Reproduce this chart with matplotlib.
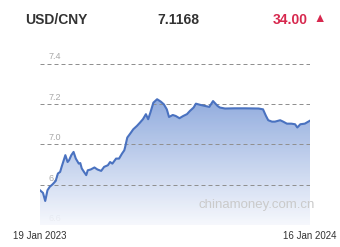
import numpy as np
import matplotlib
matplotlib.use('Agg')
import matplotlib.pyplot as plt
from matplotlib.colors import LinearSegmentedColormap

# data (day offset from 19 Jan 2023, USD/CNY rate)
days = [0, 4, 7, 10, 13, 17, 21, 24, 27, 29, 34, 37, 39, 42, 45, 48, 52, 54,
        56, 59, 62, 64, 68, 73, 77, 82, 86, 91, 94, 97, 102, 106, 110, 113,
        114, 117, 121, 125, 130, 134, 138, 142, 145, 148, 152, 157, 162, 166,
        170, 173, 178, 182, 187, 192, 197, 201, 206, 209, 215, 221, 227, 232,
        238, 241, 248, 261, 275, 293, 299, 303, 306, 311, 315, 322, 326, 331,
        337, 342, 345, 349, 355, 362]
rates = [6.772, 6.759, 6.719, 6.772, 6.789, 6.802, 6.818, 6.855, 6.863, 6.888,
         6.946, 6.912, 6.921, 6.946, 6.962, 6.929, 6.904, 6.907, 6.880, 6.863,
         6.847, 6.871, 6.875, 6.885, 6.875, 6.868, 6.888, 6.896, 6.912, 6.904,
         6.929, 6.929, 6.954, 6.970, 6.984, 7.033, 7.053, 7.074, 7.091, 7.107,
         7.124, 7.149, 7.124, 7.157, 7.206, 7.223, 7.211, 7.198, 7.173, 7.135,
         7.145, 7.140, 7.129, 7.140, 7.149, 7.165, 7.182, 7.201, 7.195, 7.190,
         7.185, 7.214, 7.190, 7.182, 7.177, 7.178, 7.178, 7.177, 7.173, 7.140,
         7.119, 7.112, 7.112, 7.119, 7.112, 7.102, 7.102, 7.099, 7.083, 7.099,
         7.102, 7.1168]
y_ticks = [6.6, 6.8, 7.0, 7.2, 7.4]
y_labels = ['6.6', '6.8', '7.0', '7.2', '7.4']
pair = 'USD/CNY'
last_rate = '7.1168'
change = '34.00'
start_date = '19 Jan 2023'
end_date = '16 Jan 2024'

plt.rcParams['font.family'] = ['Liberation Sans', 'DejaVu Sans']

fig = plt.figure(figsize=(3.4, 2.47), dpi=100)
ax = fig.add_axes([40 / 340, 22 / 247, 270 / 340, 161.5 / 247])
ax.axis('off')

for v, lab in zip(y_ticks, y_labels):
    ax.axhline(v, color='#909090', lw=0.72, linestyle=(0, (4, 3)), zorder=2)
    ax.annotate(lab, xy=(0.03, v), xycoords=('axes fraction', 'data'),
                xytext=(0, 1.5), textcoords='offset points', fontsize=6.5,
                color='#a8a8a8', ha='left', va='bottom', zorder=0.5)

# gradient fill under the line
poly = ax.fill_between(days, rates, 6.6, color='none', lw=0)
cmap = LinearSegmentedColormap.from_list('fade', ['#f6f8fd', '#84a2da'])
grad = ax.imshow(np.linspace(1, 0, 256).reshape(-1, 1), cmap=cmap,
                 extent=[0, 362, 6.6, 7.23], aspect='auto', alpha=0.9,
                 zorder=1)
grad.set_clip_path(poly.get_paths()[0], transform=ax.transData)

ax.plot(days, rates, color='#4a72c0', lw=1.5, zorder=3)
ax.set_xlim(0, 362)
ax.set_ylim(6.6, 7.4)

# header
fig.text(25 / 340, 0.918, pair, fontsize=10, fontweight='bold',
         color='#333333', va='center')
fig.text(157 / 340, 0.918, last_rate, fontsize=10, fontweight='bold',
         color='#333333', va='center')
fig.text(273 / 340, 0.918, change, fontsize=10, fontweight='bold',
         color='#d7284e', va='center')
fig.text(313 / 340, 0.922, '\u25b2', fontsize=9, color='#d7284e',
         va='center')

fig.text(257 / 340, 42 / 247, 'chinamoney.com.cn', fontsize=9.5,
         color='#cacaca', ha='center', va='center')
fig.text(40 / 340, 11 / 247, start_date, fontsize=7, color='#333333',
         ha='center', va='center')
fig.text(310 / 340, 11 / 247, end_date, fontsize=7, color='#333333',
         ha='center', va='center')

fig.savefig('out.png', dpi=100)
